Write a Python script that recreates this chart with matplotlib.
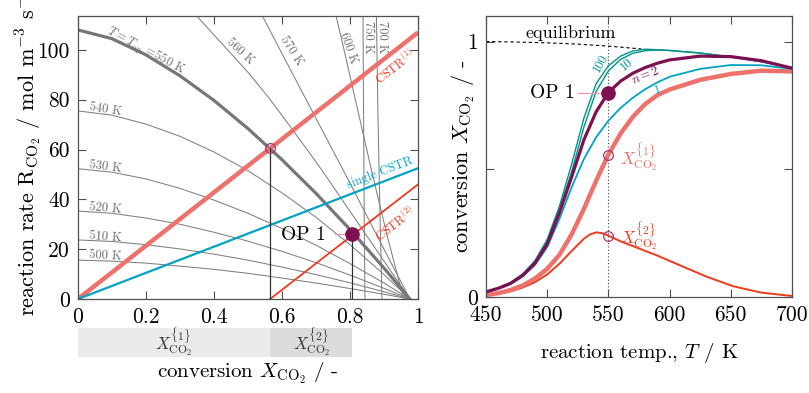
import matplotlib.pyplot as plt
from matplotlib.patches import Rectangle
from matplotlib.transforms import blended_transform_factory

plt.rcParams['font.family'] = ['cmr10', 'DejaVu Serif']
plt.rcParams['mathtext.fontset'] = 'cm'
plt.rcParams['axes.unicode_minus'] = False

# ---------------- left panel: reaction rate vs conversion ----------------
# isotherms 500-550 K, sampled on a common conversion grid
x_low = [0, 0.1, 0.2, 0.3, 0.4, 0.5, 0.6, 0.7, 0.8, 0.9, 0.976]
r_500 = [15.6, 15.2, 14.4, 13.2, 11.9, 10.3, 8.4, 6.4, 4.2, 1.9, 0]
r_510 = [23.7, 23.1, 21.8, 20.1, 18.0, 15.6, 12.8, 9.8, 6.5, 2.9, 0]
r_520 = [35.3, 34.4, 32.5, 30.0, 26.8, 23.2, 19.1, 14.6, 9.6, 4.3, 0]
r_530 = [52.3, 50.9, 48.2, 44.4, 39.7, 34.4, 28.3, 21.6, 14.2, 6.4, 0]
r_540 = [75.5, 73.8, 70.2, 65.3, 59.0, 51.5, 42.6, 32.8, 21.8, 9.8, 0]
r_550 = [108, 104.5, 98.0, 89.6, 79.7, 68.4, 55.9, 42.4, 27.9, 12.4, 0]

# hotter isotherms (start above the top of the axes)
x_560 = [0.30, 0.35, 0.42, 0.50, 0.56, 0.62, 0.68, 0.72, 0.80, 0.88, 0.976]
r_560 = [121, 113.5, 103.0, 91.0, 81.0, 70.0, 58.8, 51.2, 35.2, 19.2, 0]
x_570 = [0.52, 0.60, 0.70, 0.80, 0.90, 0.976]
r_570 = [119.5, 98.5, 72.5, 46.5, 20.0, 0]
x_600 = [0.748, 0.78, 0.82, 0.864, 0.91, 0.958]
r_600 = [120, 101.5, 77.5, 51.2, 25.0, 0]
x_700 = [0.877, 0.882, 0.888, 0.894]
r_700 = [120, 75, 35, 0]
x_750 = [0.838, 0.840, 0.842, 0.844]
r_750 = [120, 70, 30, 0]

# operating lines
cstr1_x = [0, 1]
cstr1_r = [0, 107]
single_x = [0, 1]
single_r = [0, 52.5]
cstr2_x = [0.565, 1]
cstr2_r = [0, 46]

# stage conversions / operating points
x_stage1, r_stage1 = 0.565, 60.5
x_op, r_op = 0.807, 26.2

# ---------------- right panel: conversion vs temperature ----------------
eq_T = [450, 475, 500, 525, 550, 565, 577]
eq_X = [1.0, 0.998, 0.995, 0.99, 0.982, 0.976, 0.971]

T_grid = [450, 460, 470, 480, 490, 500, 510, 520, 530, 540, 550, 560, 570, 580, 590, 600,
          625, 650, 675, 700]
X_n100 = [0.02, 0.035, 0.056, 0.09, 0.142, 0.225, 0.355, 0.52, 0.70, 0.835, 0.905, 0.943,
          0.963, 0.97, 0.968, 0.965, 0.955, 0.94, 0.921, 0.898]
X_n10 = [0.02, 0.034, 0.054, 0.087, 0.136, 0.215, 0.34, 0.49, 0.665, 0.805, 0.885, 0.93,
         0.954, 0.964, 0.967, 0.965, 0.955, 0.94, 0.921, 0.898]
X_n2 = [0.02, 0.034, 0.053, 0.085, 0.132, 0.207, 0.33, 0.47, 0.615, 0.725, 0.80, 0.845,
        0.876, 0.898, 0.915, 0.928, 0.943, 0.941, 0.925, 0.896]
X_n1 = [0.02, 0.032, 0.05, 0.08, 0.125, 0.195, 0.305, 0.43, 0.54, 0.625, 0.69, 0.74,
        0.78, 0.813, 0.84, 0.862, 0.893, 0.908, 0.907, 0.893]
X_x1 = [0.008, 0.015, 0.027, 0.045, 0.072, 0.11, 0.165, 0.245, 0.345, 0.455, 0.557, 0.64,
        0.705, 0.755, 0.79, 0.812, 0.85, 0.873, 0.886, 0.883]

T_x2 = [450, 460, 470, 480, 490, 500, 510, 520, 530, 535, 540, 545, 550, 560, 575, 590,
        608, 630, 652, 675, 700]
X_x2 = [0.005, 0.012, 0.022, 0.037, 0.058, 0.088, 0.13, 0.18, 0.228, 0.245, 0.253, 0.25,
        0.24, 0.218, 0.19, 0.162, 0.125, 0.08, 0.042, 0.017, 0.004]

T_op = 550
X_op_T, X1_T, X2_T = 0.80, 0.557, 0.24

# colours
c_salmon = '#EE716C'
c_red = '#EE3A1E'
c_cyan = '#00A3C4'
c_teal = '#00938C'
c_purple = '#7E0F50'
c_gray = '#808080'
c_ring = '#A8346E'
c_pink = '#E899B5'
c_spine = '#505050'

fig = plt.figure(figsize=(8.09, 3.93), dpi=100)
ax1 = fig.add_axes([0.0964, 0.2392, 0.4203, 0.7201])
ax2 = fig.add_axes([0.6007, 0.2443, 0.3782, 0.7150])

# ---- left panel ----
thin = [(x_low, r_500), (x_low, r_510), (x_low, r_520), (x_low, r_530), (x_low, r_540),
        (x_560, r_560), (x_570, r_570), (x_600, r_600), (x_700, r_700), (x_750, r_750)]
for xs, rs in thin:
    ax1.plot(xs, rs, color=c_gray, lw=0.75)
ax1.plot(x_low, r_550, color='#777777', lw=2.3)

ax1.plot(cstr1_x, cstr1_r, color=c_salmon, lw=3.2, solid_capstyle='butt')
ax1.plot(single_x, single_r, color=c_cyan, lw=1.6)
ax1.plot(cstr2_x, cstr2_r, color=c_red, lw=1.3)

ax1.plot([x_stage1, x_stage1], [0, r_stage1], color='#333333', lw=0.9)
ax1.plot([x_op, x_op], [0, r_op], color='#333333', lw=0.9)
ax1.plot(x_stage1, r_stage1, 'o', ms=7, mfc='none', mec=c_ring, mew=0.9)
ax1.plot([0.756, 0.79], [r_op, r_op], color=c_pink, lw=0.9)
ax1.plot(x_op, r_op, 'o', ms=9.5, color=c_purple)
ax1.text(0.662, 25.6, 'OP 1', fontsize=14, ha='center', va='center')

lab = dict(fontsize=9, color='#6e6e6e', ha='center', va='center', rotation_mode='anchor')
ax1.text(0.199, 99.6, r'$T = T_{\rm op}$ =550 K', rotation=-28, **lab)
ax1.text(0.476, 99.5, '560 K', rotation=-42, **lab)
ax1.text(0.628, 99.5, '570 K', rotation=-57, **lab)
ax1.text(0.795, 100.5, '600 K', rotation=-70, **lab)
ax1.text(0.854, 105, '750 K', rotation=-90, **lab)
ax1.text(0.895, 105, '700 K', rotation=-90, **lab)
ax1.text(0.08, 76, '540 K', rotation=-9, **lab)
ax1.text(0.08, 53, '530 K', rotation=-7, **lab)
ax1.text(0.08, 36.5, '520 K', rotation=-5, **lab)
ax1.text(0.08, 25, '510 K', rotation=-4, **lab)
ax1.text(0.08, 17.3, '500 K', rotation=-3, **lab)

ax1.text(0.932, 93, r'CSTR$^{(1)}$', color=c_red, fontsize=9, rotation=38,
         ha='center', va='center', rotation_mode='anchor')
ax1.text(0.932, 30.1, r'CSTR$^{(2)}$', color=c_red, fontsize=9, rotation=38,
         ha='center', va='center', rotation_mode='anchor')
ax1.text(0.888, 50.5, 'single CSTR', color=c_cyan, fontsize=9, rotation=21,
         ha='center', va='center', rotation_mode='anchor')

ax1.set_xlim(0, 1)
ax1.set_ylim(0, 113.6)
ax1.set_xticks([0, 0.2, 0.4, 0.6, 0.8, 1])
ax1.set_xticklabels(['0', '0.2', '0.4', '0.6', '0.8', '1'])
ax1.set_yticks([0, 20, 40, 60, 80, 100])
ax1.set_yticklabels(['0', '20', '40', '60', '80', '100'])

# stage bands under the x axis
trans = blended_transform_factory(ax1.transData, ax1.transAxes)
ax1.add_patch(Rectangle((0, -0.205), x_stage1, 0.1025, transform=trans, clip_on=False,
                        fc='#EBEBEB', ec='none'))
ax1.add_patch(Rectangle((x_stage1, -0.205), x_op - x_stage1, 0.1025, transform=trans,
                        clip_on=False, fc='#DCDCDC', ec='none'))
ax1.text(x_stage1 / 2, -0.154, r'$X_{\mathrm{CO}_2}^{\{1\}}$', transform=trans,
         fontsize=12, ha='center', va='center', color='#333333')
ax1.text((x_stage1 + x_op) / 2, -0.154, r'$X_{\mathrm{CO}_2}^{\{2\}}$', transform=trans,
         fontsize=12, ha='center', va='center', color='#333333')

ax1.set_xlabel(r'conversion $X_{\mathrm{CO}_2}$ / -', fontsize=15)
ax1.xaxis.set_label_coords(0.5, -0.22)
ax1.set_ylabel(r'reaction rate $\mathrm{R}_{\mathrm{CO}_2}$ / mol m$^{-3}$ s$^{-1}$', fontsize=16)
ax1.yaxis.set_label_coords(-0.1, 0.52)

# ---- right panel ----
ax2.plot([T_op, T_op], [0, 1.06], color='#444444', lw=0.8, ls=(0, (1, 2)))
ax2.plot(eq_T, eq_X, color='black', lw=0.8, ls=(0, (3, 2.5)))
ax2.text(519.5, 1.033, 'equilibrium', fontsize=13, ha='center', va='center')

ax2.plot(T_x2, X_x2, color=c_red, lw=1.4)
ax2.plot(T_grid, X_x1, color=c_salmon, lw=3.2)
ax2.plot(T_grid, X_n1, color=c_cyan, lw=1.3)
ax2.plot(T_grid, X_n10, color=c_teal, lw=1.0)
ax2.plot(T_grid, X_n100, color=c_teal, lw=1.0)
ax2.plot(T_grid, X_n2, color=c_purple, lw=2.3)

ax2.plot(T_op, X1_T, 'o', ms=7, mfc='none', mec=c_ring, mew=0.9)
ax2.plot(T_op, X2_T, 'o', ms=7, mfc='none', mec=c_ring, mew=0.9)
ax2.plot([525, 545], [X_op_T, X_op_T], color=c_pink, lw=0.9)
ax2.plot(T_op, X_op_T, 'o', ms=9.5, color=c_purple)
ax2.text(504, X_op_T, 'OP 1', fontsize=14, ha='center', va='center')

ax2.text(559.5, 0.545, r'$X_{\mathrm{CO}_2}^{\{1\}}$', color=c_salmon, fontsize=12,
         ha='left', va='center')
ax2.text(559.5, 0.235, r'$X_{\mathrm{CO}_2}^{\{2\}}$', color=c_red, fontsize=12,
         ha='left', va='center')
rl = dict(fontsize=9, ha='center', va='center', rotation_mode='anchor')
ax2.text(544, 0.915, '100', color=c_teal, rotation=60, **rl)
ax2.text(565, 0.91, '10', color=c_teal, rotation=40, **rl)
ax2.text(580.5, 0.867, r'$n = 2$', color=c_purple, rotation=22, **rl)
ax2.text(590.3, 0.812, '1', color=c_cyan, rotation=20, **rl)

ax2.set_xlim(450, 700)
ax2.set_ylim(0, 1.1)
ax2.set_xticks([450, 500, 550, 600, 650, 700])
ax2.set_xticklabels(['450', '500', '550', '600', '650', '700'])
ax2.set_yticks([0, 0.5, 1])
ax2.set_yticklabels(['0', '', '1'])
ax2.set_xlabel(r'reaction temp., $T$ / K', fontsize=15)
ax2.xaxis.set_label_coords(0.5, -0.155)
ax2.set_ylabel(r'conversion $X_{\mathrm{CO}_2}$ / -', fontsize=16)
ax2.yaxis.set_label_coords(-0.03, 0.5)

for ax in (ax1, ax2):
    ax.tick_params(direction='in', top=True, right=True, length=6, width=0.8,
                   labelsize=15.5, pad=6, color=c_spine)
    for s in ax.spines.values():
        s.set_color(c_spine)
        s.set_linewidth(0.9)

fig.savefig('out.png', dpi=100)
